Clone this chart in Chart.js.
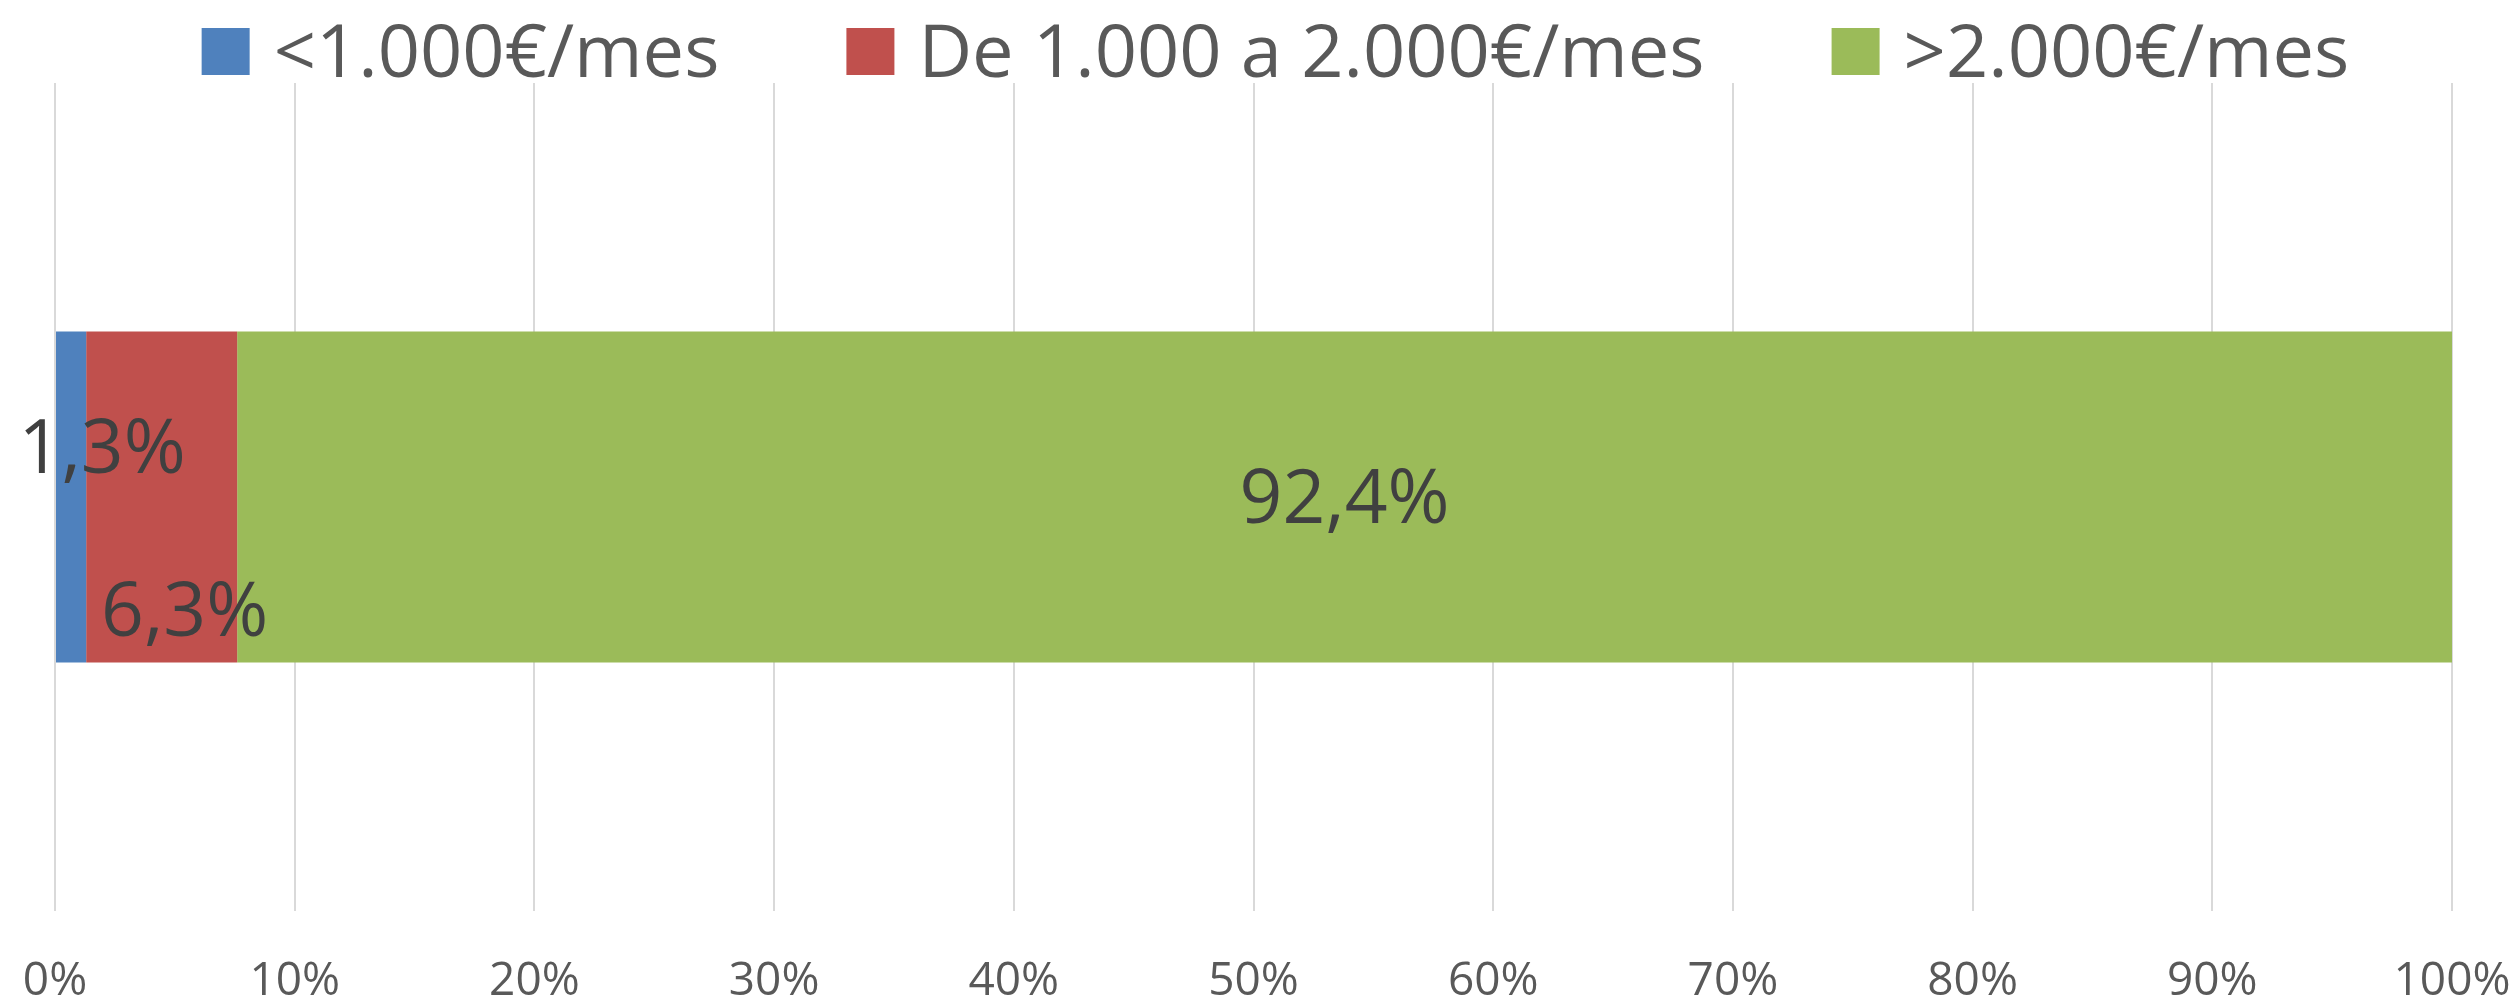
<!DOCTYPE html>
<html>
<head>
<meta charset="utf-8">
<script src="https://cdn.jsdelivr.net/npm/chart.js@4.4.1/dist/chart.umd.min.js"></script>
<style>
  html, body { margin: 0; padding: 0; background: #ffffff; }
  #wrap { width: 2517px; height: 1001px; position: relative; }
</style>
</head>
<body>
<div id="wrap"><canvas id="chart"></canvas></div>
<script>
// datos del gráfico
const categories = [""];
const seriesNames = ["<1.000€/mes", "De 1.000 a 2.000€/mes", ">2.000€/mes"];
const lowIncome = [1.3];
const midIncome = [6.3];
const highIncome = [92.4];
const tickValues = [0, 10, 20, 30, 40, 50, 60, 70, 80, 90, 100];

// estilos
const colors = ["#4F81BD", "#C0504D", "#9BBB59"];
const labelShift = [[31, -45], [23, 118], [0, 5]]; // desplazamiento de etiquetas (px)
const FONT = "'Open Sans', 'Noto Sans', sans-serif";

const fmt = (v) => v.toFixed(1).replace(".", ",") + "%";

// etiquetas de datos sobre las barras
const barLabels = {
  id: "barLabels",
  afterDatasetsDraw(chart) {
    const { ctx } = chart;
    ctx.save();
    ctx.font = "75px " + FONT;
    ctx.fillStyle = "#404040";
    ctx.textAlign = "center";
    ctx.textBaseline = "middle";
    chart.data.datasets.forEach((ds, i) => {
      chart.getDatasetMeta(i).data.forEach((bar, j) => {
        const { x, base, y } = bar.getProps(["x", "base", "y"], true);
        const cx = (x + base) / 2 + labelShift[i][0];
        ctx.fillText(fmt(ds.data[j]), cx, y + labelShift[i][1]);
      });
    });
    ctx.restore();
  },
};

// leyenda arriba, centrada
const topLegend = {
  id: "topLegend",
  afterDraw(chart) {
    const { ctx } = chart;
    const box = 48, gapText = 24, gapItem = 127;
    ctx.save();
    ctx.font = "74px " + FONT;
    ctx.textBaseline = "middle";
    const widths = chart.data.datasets.map((ds) => ctx.measureText(ds.label).width);
    const total = widths.reduce((a, w) => a + box + gapText + w, 0) + gapItem * (widths.length - 1);
    let x = chart.width / 2 - total / 2 + 17;
    const cy = 52;
    chart.data.datasets.forEach((ds, i) => {
      ctx.fillStyle = ds.backgroundColor;
      ctx.fillRect(x, cy - 24, box, 47);
      ctx.fillStyle = "#595959";
      ctx.fillText(ds.label, x + box + gapText, cy + 4);
      x += box + gapText + widths[i] + gapItem;
    });
    ctx.restore();
  },
};

new Chart(document.getElementById("chart"), {
  type: "bar",
  data: {
    labels: categories,
    datasets: [
      { label: seriesNames[0], data: lowIncome, backgroundColor: colors[0] },
      { label: seriesNames[1], data: midIncome, backgroundColor: colors[1] },
      { label: seriesNames[2], data: highIncome, backgroundColor: colors[2] },
    ],
  },
  options: {
    indexAxis: "y",
    responsive: true,
    maintainAspectRatio: false,
    animation: false,
    layout: { padding: { top: 83, left: 55, right: 65, bottom: 0 } },
    datasets: { bar: { categoryPercentage: 1, barPercentage: 0.4, borderWidth: 0 } },
    plugins: {
      legend: { display: false },
      tooltip: { enabled: false },
    },
    scales: {
      x: {
        stacked: true,
        min: 0,
        max: 100,
        afterBuildTicks: (axis) => {
          axis.ticks = tickValues.map((v) => ({ value: v }));
        },
        afterFit: (axis) => {
          axis.height = 90;
          axis.paddingLeft = 0;
          axis.paddingRight = 0;
        },
        grid: { color: "#D9D9D9", lineWidth: 2, drawTicks: false },
        border: { display: false },
        ticks: {
          padding: 48,
          color: "#595959",
          font: { family: FONT, size: 46, lineHeight: 1 },
          maxRotation: 0,
          autoSkip: false,
          callback: (v) => v + "%",
        },
      },
      y: {
        stacked: true,
        display: false,
      },
    },
  },
  plugins: [barLabels, topLegend],
});
</script>
</body>
</html>
